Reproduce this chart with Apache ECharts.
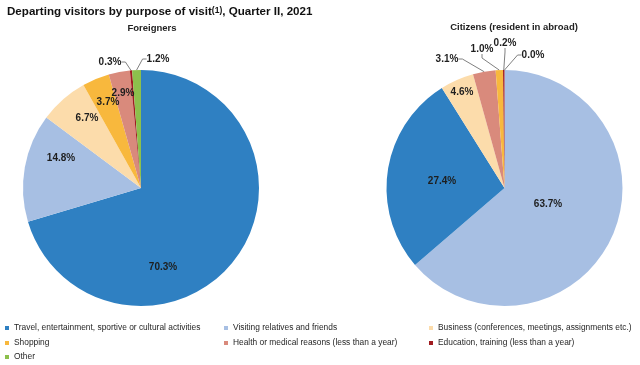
<!DOCTYPE html>
<html>
<head>
<meta charset="utf-8">
<script src="https://cdn.jsdelivr.net/npm/echarts@6/dist/echarts.min.js"></script>
<style>html,body{margin:0;padding:0;background:#fff}#c{width:640px;height:365px}</style>
</head>
<body>
<div id="c"></div>
<script>
// ---- data ----
const categories = [
  'Travel, entertainment, sportive or cultural activities',
  'Visiting relatives and friends',
  'Business (conferences, meetings, assignments etc.)',
  'Shopping',
  'Health or medical reasons (less than a year)',
  'Education, training (less than a year)',
  'Other'
];
// Foreigners, in drawing order
const foreignCats = [0, 1, 2, 3, 4, 5, 6];
const foreignValues = [70.3, 14.8, 6.7, 3.7, 2.9, 0.3, 1.2];
// Citizens (resident in abroad), in drawing order
const citizenCats = [1, 0, 2, 4, 3, 5, 6];
const citizenValues = [63.7, 27.4, 4.6, 3.1, 1.0, 0.2, 0.0];

// ---- styles ----
const colors = ['#2f80c2', '#a7bfe3', '#fcdcab', '#f8b83d', '#d98a7c', '#a01c20', '#8cc04c'];
const centers = [[141, 188], [504.5, 188]];
const R = 118;
// label offsets from pie center (px), per drawn slice
const labelOffsets = [
  [[22, 79], [-80, -30], [-54, -70], [-33, -86], [-18, -95], [-31, -126], [17, -129]],
  [[43.5, 16], [-62.5, -7], [-42.5, -96], [-57.5, -129], [-22.5, -139], [0.5, -145], [28.5, -133]]
];
const outsideFlags = [
  [false, false, false, false, false, true, true],
  [false, false, false, true, true, true, true]
];
// legend placement: [category, left, top]
const legendSlots = [
  [0, 5, 324], [1, 224, 324], [2, 429, 324],
  [3, 5, 339], [4, 224, 339], [5, 429, 339],
  [6, 5, 353]
];

function buildData(cats, vals, si) {
  return cats.map((c, i) => ({
    name: categories[c],
    value: vals[i],
    itemStyle: { color: colors[c] },
    label: outsideFlags[si][i] ? { position: 'outside' } : { position: 'inside' },
    labelLine: { show: outsideFlags[si][i] }
  }));
}

const labelFont = { fontFamily: 'Liberation Sans, Arial, sans-serif', fontWeight: 'bold', fontSize: 10, color: '#1e1e1e' };

function pieSeries(si, cats, vals) {
  return {
    type: 'pie',
    center: centers[si],
    radius: R,
    startAngle: 90,
    clockwise: true,
    avoidLabelOverlap: false,
    animation: false,
    itemStyle: { borderColor: '#fff', borderWidth: 0 },
    label: Object.assign({ formatter: p => p.value.toFixed(1) + '%' }, labelFont),
    labelLine: { lineStyle: { color: '#808080', width: 1 }, length: 6, length2: 4 },
    labelLayout: function (p) {
      const o = labelOffsets[si][p.dataIndex];
      return { x: centers[si][0] + o[0], y: centers[si][1] + o[1], align: 'center', verticalAlign: 'middle' };
    },
    data: buildData(cats, vals, si)
  };
}

const legendText = { fontFamily: 'Liberation Sans, Arial, sans-serif', fontSize: 8.4, color: '#262626' };
const legends = legendSlots.map(s => ({
  orient: 'horizontal', left: s[1], top: s[2], padding: 0, itemGap: 0,
  icon: 'rect', itemWidth: 4, itemHeight: 4,
  textStyle: legendText, data: [categories[s[0]]], selectedMode: false
}));

const chart = echarts.init(document.getElementById('c'), null, { renderer: 'canvas' });
chart.setOption({
  backgroundColor: '#fff',
  title: {
    left: 2, top: 1,
    text: '{a|Departing visitors by purpose of visit}{s|(1)}{a|, Quarter II, 2021}',
    textStyle: {
      rich: {
        a: { fontFamily: 'Liberation Sans, Arial, sans-serif', fontWeight: 'bold', fontSize: 11.6, color: '#111' },
        s: { fontFamily: 'Liberation Sans, Arial, sans-serif', fontWeight: 'bold', fontSize: 8.5, color: '#111', verticalAlign: 'top' }
      }
    }
  },
  graphic: [
    { type: 'text', x: 152, y: 28, style: { text: 'Foreigners', textAlign: 'center', textVerticalAlign: 'middle', font: 'bold 9.5px Liberation Sans, Arial, sans-serif', fill: '#222' } },
    { type: 'text', x: 514, y: 27, style: { text: 'Citizens (resident in abroad)', textAlign: 'center', textVerticalAlign: 'middle', font: 'bold 9.5px Liberation Sans, Arial, sans-serif', fill: '#222' } }
  ],
  legend: legends,
  series: [
    pieSeries(0, foreignCats, foreignValues),
    pieSeries(1, citizenCats, citizenValues)
  ]
});
</script>
</body>
</html>
